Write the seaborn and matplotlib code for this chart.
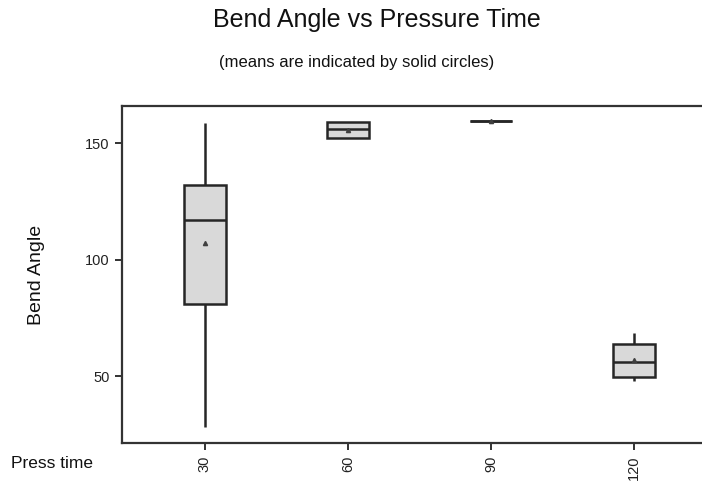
import numpy as np
import pandas as pd
import matplotlib
matplotlib.use("Agg")
import matplotlib.pyplot as plt
import seaborn as sns

# Data (estimated observations per press time)
press_times = ["30", "60", "90", "120"]
angles_30 = [28, 55, 81, 105, 117, 130, 132, 158, 159]
angles_60 = [152.5, 152.5, 156, 159.3, 159.3]
angles_90 = [159.5, 159.5, 159.5]
angles_120 = [47.8, 49.7, 55.9, 63.6, 68.4]
y_ticks = [50, 100, 150]

title = "Bend Angle vs Pressure Time"
subtitle = "(means are indicated by solid circles)"

groups = [angles_30, angles_60, angles_90, angles_120]
df = pd.DataFrame({
    "Press time": np.concatenate([[t] * len(g) for t, g in zip(press_times, groups)]),
    "Bend Angle": np.concatenate(groups),
})

sns.set_theme(style="white")
plt.rcParams["font.family"] = ["Liberation Sans", "DejaVu Sans"]

fig = plt.figure(figsize=(7.02, 4.84), dpi=100)
ax = fig.add_axes([122 / 702, 40.7 / 484, 595 / 702, 337.3 / 484])

sns.boxplot(
    data=df, x="Press time", y="Bend Angle", order=press_times, ax=ax,
    color="#d9d9d9", linecolor="#262626", linewidth=1.8, width=0.3,
    whis=(0, 100), showcaps=False, showfliers=False, showmeans=True,
    saturation=1,
    meanprops=dict(marker="^", markersize=3, markerfacecolor="#404040",
                   markeredgecolor="#404040"),
)

ax.set_xlim(-0.58, 3.58)
ax.set_ylim(21.1, 166.1)
ax.set_yticks(y_ticks)
ax.set_yticklabels([str(v) for v in y_ticks], fontsize=10.5, color="#222222")
ax.set_xticks(range(len(press_times)))
ax.set_xticklabels(press_times, rotation=90, fontsize=10.5, color="#222222")
ax.tick_params(axis="both", direction="out", length=5, width=1.3, color="#222222",
               left=True, bottom=True, pad=4)
ax.set_xlabel("")
ax.set_ylabel("Bend Angle", fontsize=14, color="#111111", labelpad=29)

for side in ["left", "bottom", "top"]:
    ax.spines[side].set_visible(True)
    ax.spines[side].set_color("#333333")
    ax.spines[side].set_linewidth(1.6)
ax.spines["right"].set_visible(False)

fig.text(377 / 702, 1 - 20 / 484, title, ha="center", va="center",
         fontsize=18, color="#111111")
fig.text(357 / 702, 1 - 62 / 484, subtitle, ha="center", va="center",
         fontsize=12, color="#111111")
fig.text(11 / 702, 1 - 463 / 484, "Press time", ha="left", va="center",
         fontsize=12.5, color="#111111")

fig.savefig("out.png", dpi=100)
